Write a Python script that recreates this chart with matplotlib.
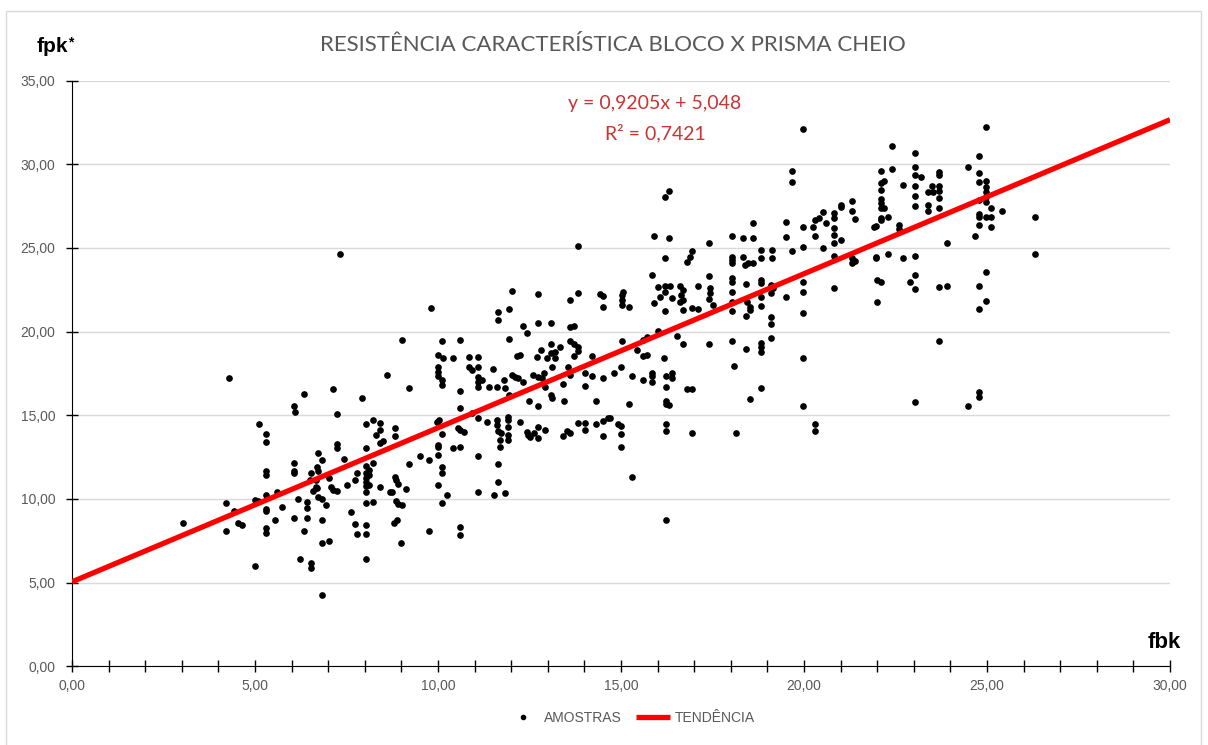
import matplotlib
matplotlib.use("Agg")
import matplotlib.pyplot as plt
from matplotlib.patches import Rectangle

# Data (fbk = block strength, fpk* = full prism strength)
fbk = [
    4.29, 8.6, 6.33, 7.13, 7.91, 6.07, 6.1, 7.24, 5.12, 8.22,
    8.04, 8.42, 5.31, 5.31, 8.42, 8.3, 8.42, 8.5, 7.23, 7.23,
    8.04, 6.71, 7.42, 6.83, 6.07, 6.07, 6.07, 5.31, 5.31, 6.69,
    6.73, 6.53, 8.04, 8.04, 8.12, 8.22, 7.8, 7.73, 8.11, 8.04,
    8.04, 8.12, 8.04, 6.5, 7.02, 6.66, 6.66, 6.59, 6.7, 7.08,
    7.14, 7.23, 7.5, 8.42, 8.69, 5.31, 5.31, 5.31, 5.61, 5.0,
    5.07, 5.73, 6.18, 6.41, 6.41, 6.73, 6.84, 6.94, 8.04, 8.04,
    8.23, 7.62, 4.22, 4.22, 4.43, 4.53, 4.64, 3.04, 5.55, 6.07,
    6.41, 5.31, 5.31, 6.33, 6.82, 7.73, 7.8, 8.04, 8.04, 6.84,
    7.02, 5.01, 6.23, 6.53, 6.53, 8.04, 6.83, 7.32, 13.83, 12.01,
    12.72, 13.83, 14.43, 14.52, 14.52, 13.6, 9.82, 11.63, 11.63, 11.93,
    12.31, 12.42, 12.72, 13.1, 13.6, 13.71, 9.02, 10.12, 10.6, 11.93,
    10.01, 10.15, 10.42, 10.84, 11.1, 12.15, 12.24, 12.81, 12.7, 13.1,
    13.1, 13.21, 13.33, 13.6, 13.71, 13.83, 13.83, 13.71, 14.2, 12.98,
    13.21, 10.01, 10.01, 10.01, 10.1, 10.12, 10.85, 10.92, 11.1, 11.1,
    11.1, 11.1, 11.19, 11.4, 11.6, 11.51, 11.79, 11.83, 11.94, 12.01,
    12.1, 12.19, 12.33, 12.6, 12.72, 12.83, 12.9, 12.92, 12.49, 12.72,
    13.1, 13.12, 13.11, 13.42, 13.44, 13.56, 13.61, 14.02, 14.02, 14.2,
    14.32, 14.5, 9.22, 10.6, 10.6, 9.96, 10.03, 10.12, 10.01, 10.01,
    10.01, 10.54, 10.6, 10.71, 10.42, 10.6, 10.92, 11.1, 11.1, 11.33,
    11.62, 11.62, 11.65, 11.71, 11.69, 11.69, 11.63, 11.63, 11.53, 11.83,
    11.1, 11.92, 11.92, 11.92, 11.92, 11.92, 12.24, 12.42, 12.45, 12.51,
    12.62, 12.72, 12.72, 12.92, 13.41, 13.52, 13.61, 13.83, 14.02, 14.02,
    14.32, 14.5, 14.5, 14.65, 8.83, 8.83, 9.51, 9.75, 9.21, 10.01,
    10.1, 10.12, 8.83, 8.85, 8.92, 8.73, 9.13, 8.84, 8.9, 9.02,
    10.24, 10.12, 8.81, 8.89, 8.99, 9.75, 10.6, 10.6, 19.98, 19.68,
    19.68, 16.2, 16.32, 20.53, 20.41, 20.3, 20.25, 19.5, 19.5, 18.6,
    19.98, 20.59, 15.9, 16.32, 18.02, 18.32, 18.6, 20.3, 17.41, 19.98,
    19.68, 20.53, 16.93, 16.89, 16.81, 16.2, 18.02, 18.02, 18.02, 18.32,
    18.39, 18.48, 18.6, 18.83, 18.83, 19.12, 19.12, 15.84, 17.41, 15.06,
    15.02, 15.02, 15.02, 15.23, 16.02, 16.2, 16.34, 16.61, 16.7, 16.07,
    16.2, 16.38, 16.64, 16.7, 15.9, 16.2, 16.61, 16.7, 16.93, 17.11,
    17.11, 17.43, 17.43, 17.41, 17.5, 18.02, 18.02, 18.02, 18.02, 18.02,
    18.41, 18.43, 18.52, 18.52, 18.41, 18.83, 18.83, 18.83, 18.83, 19.11,
    19.11, 19.14, 19.11, 19.11, 19.5, 19.98, 19.98, 19.98, 16.02, 15.7,
    15.61, 16.52, 15.02, 15.43, 15.61, 15.7, 16.18, 16.7, 17.41, 18.02,
    19.11, 18.41, 18.83, 18.83, 18.83, 19.98, 14.82, 15.0, 15.31, 15.61,
    15.84, 15.84, 15.84, 16.22, 16.22, 16.4, 16.4, 16.81, 16.93, 18.1,
    18.83, 18.52, 19.98, 15.23, 16.22, 16.22, 16.32, 14.7, 14.93, 15.0,
    15.0, 15.0, 16.22, 16.22, 16.93, 18.14, 20.3, 20.3, 15.31, 16.22,
    24.97, 22.4, 23.02, 24.79, 24.49, 22.1, 22.4, 23.02, 23.02, 23.02,
    23.02, 23.02, 23.21, 22.71, 22.1, 22.18, 22.1, 22.1, 22.1, 22.1,
    22.1, 22.1, 22.18, 21.92, 22.3, 22.6, 22.6, 23.4, 23.5, 23.53,
    23.4, 23.4, 23.7, 23.7, 23.7, 23.7, 23.7, 23.7, 24.79, 24.79,
    24.79, 24.79, 24.79, 24.79, 24.97, 24.97, 24.97, 24.97, 24.97, 24.97,
    25.1, 25.1, 25.1, 25.4, 24.67, 26.31, 26.31, 23.9, 20.82, 20.82,
    20.82, 20.82, 20.82, 20.82, 21.01, 21.01, 21.01, 21.32, 21.32, 21.39,
    21.32, 21.32, 21.39, 21.98, 21.98, 21.98, 22.3, 22.71, 23.02, 22.0,
    22.1, 22.0, 20.82, 22.9, 23.02, 23.02, 23.7, 23.9, 24.79, 24.97,
    24.97, 24.79, 23.7, 23.02, 24.49, 24.79, 24.79,
]
fpk = [
    17.2, 17.4, 16.3, 16.6, 16.05, 15.54, 15.2, 15.06, 14.48, 14.7,
    14.47, 14.56, 13.9, 13.4, 14.14, 13.8, 13.35, 13.47, 13.3, 13.03,
    13.05, 12.73, 12.39, 12.35, 12.15, 11.67, 11.57, 11.67, 11.45, 11.9,
    11.67, 11.55, 11.97, 11.57, 11.73, 12.13, 11.54, 11.14, 11.44, 11.24,
    11.02, 10.84, 10.78, 11.14, 11.26, 11.15, 10.7, 10.48, 10.66, 10.72,
    10.54, 10.48, 10.82, 10.74, 10.42, 10.26, 9.38, 9.3, 10.42, 9.94,
    9.88, 9.5, 10.02, 9.84, 9.48, 10.14, 9.98, 9.66, 10.42, 9.74,
    9.84, 9.24, 9.74, 8.1, 9.28, 8.55, 8.45, 8.58, 8.74, 8.85,
    8.85, 8.27, 7.99, 8.09, 8.76, 8.5, 7.93, 8.43, 7.93, 7.35,
    7.51, 6.01, 6.43, 6.19, 5.86, 6.43, 4.28, 24.64, 25.14, 22.41,
    22.25, 22.33, 22.25, 22.15, 21.5, 21.91, 21.43, 21.18, 20.68, 21.34,
    20.36, 19.94, 20.52, 20.52, 20.28, 20.32, 19.5, 19.44, 19.5, 19.58,
    18.6, 18.41, 18.41, 18.47, 18.47, 18.55, 18.6, 18.91, 18.47, 19.26,
    18.7, 18.77, 19.1, 19.46, 19.26, 19.1, 18.87, 18.55, 18.57, 18.4,
    18.4, 17.91, 17.61, 17.35, 17.11, 16.81, 17.87, 17.71, 17.87, 17.31,
    17.01, 16.71, 17.11, 16.71, 16.71, 17.77, 17.11, 16.62, 16.22, 17.41,
    17.31, 17.21, 17.01, 17.41, 17.31, 17.21, 17.51, 16.71, 15.88, 15.56,
    16.22, 16.02, 17.91, 16.86, 15.88, 17.91, 17.41, 17.55, 16.77, 17.35,
    15.88, 17.21, 16.62, 16.46, 15.46, 14.62, 14.72, 13.89, 13.23, 13.09,
    12.63, 14.23, 14.12, 14.02, 13.07, 13.13, 15.12, 14.82, 12.57, 14.57,
    14.72, 14.42, 14.06, 13.92, 13.53, 13.13, 12.07, 10.99, 10.24, 10.34,
    10.44, 14.92, 14.72, 14.32, 13.83, 13.53, 14.62, 14.02, 13.83, 13.69,
    13.96, 13.63, 14.32, 14.12, 13.78, 14.08, 13.96, 14.56, 14.56, 14.12,
    14.46, 14.68, 13.77, 14.82, 14.23, 13.77, 12.57, 12.33, 12.07, 10.82,
    11.9, 11.57, 11.3, 11.14, 10.9, 10.42, 10.58, 9.88, 9.7, 9.64,
    10.24, 9.78, 8.55, 8.74, 7.37, 8.1, 8.34, 7.85, 32.1, 29.62,
    28.95, 28.03, 28.39, 27.15, 26.78, 26.68, 26.24, 26.56, 25.68, 26.48,
    26.24, 26.48, 25.72, 25.58, 25.72, 25.58, 25.58, 25.72, 25.32, 25.04,
    24.82, 24.99, 24.82, 24.48, 24.18, 24.42, 24.48, 24.28, 24.09, 24.48,
    23.99, 24.09, 24.12, 24.88, 24.42, 24.88, 24.42, 23.39, 23.33, 22.39,
    22.19, 21.89, 21.59, 21.49, 22.69, 22.75, 22.73, 22.73, 22.49, 22.09,
    22.39, 22.0, 22.19, 21.89, 21.73, 21.25, 21.79, 21.3, 21.4, 21.34,
    22.75, 22.63, 22.3, 21.94, 21.6, 23.19, 22.99, 22.39, 21.79, 21.25,
    22.83, 21.79, 21.49, 21.3, 20.94, 23.09, 22.89, 22.09, 21.54, 22.79,
    22.3, 22.59, 20.9, 20.44, 22.09, 22.99, 22.36, 21.1, 20.02, 19.7,
    19.5, 19.74, 19.44, 18.91, 18.55, 18.61, 18.41, 19.26, 19.26, 19.44,
    19.6, 18.95, 19.31, 19.07, 18.8, 18.41, 17.51, 17.87, 17.37, 17.11,
    17.55, 17.37, 17.01, 17.37, 16.71, 17.55, 17.21, 16.56, 16.56, 17.95,
    16.62, 15.96, 15.56, 15.68, 15.88, 15.68, 15.62, 14.82, 14.48, 14.38,
    13.89, 13.13, 14.46, 14.06, 13.96, 13.96, 14.46, 14.06, 11.31, 8.74,
    32.25, 31.1, 30.7, 30.52, 29.86, 29.6, 29.71, 29.86, 29.37, 28.71,
    28.11, 27.51, 29.26, 28.79, 28.91, 28.99, 28.47, 27.91, 27.67, 27.38,
    26.78, 26.64, 27.38, 26.28, 26.87, 26.38, 26.12, 28.37, 28.71, 28.37,
    27.57, 27.23, 29.56, 29.37, 28.71, 28.43, 27.97, 27.38, 29.47, 28.97,
    27.87, 27.03, 26.87, 26.38, 29.03, 28.63, 28.37, 28.07, 27.77, 26.87,
    26.87, 27.38, 26.28, 27.23, 25.74, 26.87, 24.64, 25.32, 27.08, 26.78,
    26.18, 25.78, 25.32, 24.52, 25.48, 27.57, 27.47, 27.83, 27.23, 26.74,
    24.39, 24.09, 24.24, 26.32, 24.48, 24.39, 24.64, 24.39, 24.52, 23.09,
    22.99, 21.76, 22.59, 22.99, 23.41, 22.57, 22.67, 22.75, 22.75, 23.57,
    21.84, 21.34, 19.44, 15.8, 15.56, 16.38, 16.12,
]

# Trend line coefficients shown on the chart
slope = 0.9205
intercept = 5.048
r2 = 0.7421
trend_x = [0, 30]

x_ticks = [0, 5, 10, 15, 20, 25, 30]
y_ticks = [0, 5, 10, 15, 20, 25, 30, 35]

gray = "#595959"
label_font = ["Liberation Sans Narrow", "Liberation Sans", "DejaVu Sans"]

fig = plt.figure(figsize=(12.08, 7.45), dpi=100)
ax = fig.add_axes([72 / 1208, 1 - 666.3 / 745, 1098 / 1208, 585.7 / 745])

# Scatter points and trend line
ax.plot(fbk, fpk, "o", color="black", markersize=3.8, linestyle="none",
        label="AMOSTRAS", zorder=3)
trend_y = [slope * v + intercept for v in trend_x]
ax.plot(trend_x, trend_y, color="#ff0000", linewidth=3.8, label="TENDÊNCIA",
        zorder=4, solid_capstyle="butt")

ax.set_xlim(0, 30)
ax.set_ylim(0, 35)
ax.set_xticks(x_ticks)
ax.set_xticks(range(0, 31), minor=True)
ax.set_yticks(y_ticks)
ax.set_xticklabels([f"{v:.2f}".replace(".", ",") for v in x_ticks],
                   color=gray, fontsize=10, family=label_font)
ax.set_yticklabels([f"{v:.2f}".replace(".", ",") for v in y_ticks],
                   color=gray, fontsize=10, family=label_font)

ax.grid(axis="y", color="#d9d9d9", linewidth=1)
ax.set_axisbelow(True)
for side in ["top", "right"]:
    ax.spines[side].set_visible(False)
ax.spines["left"].set_color("black")
ax.spines["bottom"].set_color("black")
ax.spines["bottom"].set_zorder(5)
ax.tick_params(axis="x", which="both", direction="inout", length=8, width=1,
               pad=5)
ax.tick_params(axis="y", which="major", direction="inout", length=8, width=1,
               pad=8)

# Texts
fig.text(613 / 1208, 1 - 45 / 745, "RESISTÊNCIA CARACTERÍSTICA BLOCO X PRISMA CHEIO",
         ha="center", va="center", fontsize=16, color=gray, family="Lato")
fig.text(37 / 1208, 1 - 46 / 745, "fpk", ha="left", va="center",
         fontsize=15, fontweight="bold", color="black",
         family=["Liberation Sans", "DejaVu Sans"])
fig.text(68 / 1208, 1 - 42 / 745, "*", ha="left", va="center",
         fontsize=10, fontweight="bold", color="black",
         family=["Liberation Sans", "DejaVu Sans"])
fig.text(1148 / 1208, 1 - 643 / 745, "fbk", ha="left", va="center",
         fontsize=16, fontweight="bold", color="black",
         family=["Liberation Sans", "DejaVu Sans"])
eq = f"y = {slope:.4f}x + {intercept:.3f}".replace(".", ",")
fig.text(655 / 1208, 1 - 104 / 745, eq, ha="center", va="center",
         fontsize=14, color="#cc3333", family="Lato")
fig.text(655 / 1208, 1 - 133 / 745, f"R² = {r2:.4f}".replace(".", ","),
         ha="center", va="center", fontsize=14, color="#cc3333", family="Lato")

# Legend
leg = fig.legend(loc="center", bbox_to_anchor=(630 / 1208, 1 - 718 / 745),
                 ncol=2, frameon=False, handlelength=2.5, columnspacing=1.0,
                 handletextpad=0.3, prop={"family": label_font, "size": 10})
for t in leg.get_texts():
    t.set_color(gray)
leg.legend_handles[0].set_markersize(3)

# Chart border
fig.patches.append(Rectangle((6 / 1208, -0.01), 1195 / 1208, 734 / 745 + 0.01,
                             transform=fig.transFigure, fill=False,
                             edgecolor="#d9d9d9", linewidth=1))

plt.savefig("out.png", dpi=100)
